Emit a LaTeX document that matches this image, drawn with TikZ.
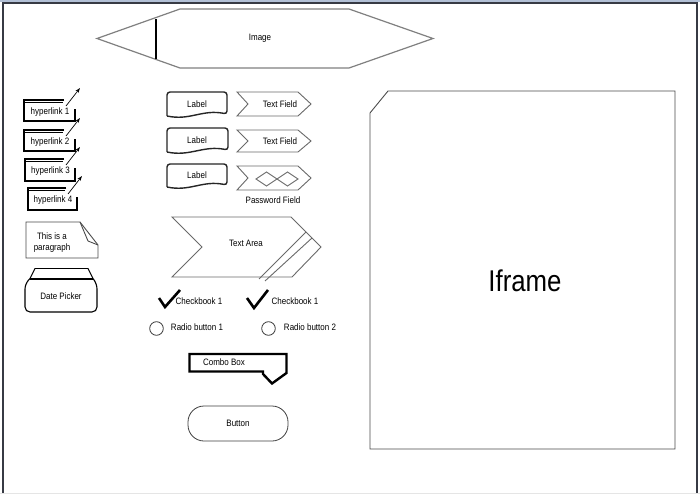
\documentclass[tikz,border=0pt]{standalone}
\usepackage{fontspec}
\setmainfont{Liberation Sans}[FakeStretch=0.86]
\usetikzlibrary{arrows.meta}

\definecolor{framedark}{RGB}{55,58,68}
\definecolor{framelight}{RGB}{178,192,214}
\definecolor{edgegray}{RGB}{105,105,105}

\begin{document}
\begin{tikzpicture}[x=1pt,y=-1pt,
  txt/.style={font=\fontsize{9.3}{10.8}\selectfont, inner sep=0pt, align=center},
  thinline/.style={draw=edgegray, line width=0.9pt},
  thickline/.style={draw=black, line width=2.3pt},
  labelline/.style={draw=black!85, line width=1.4pt, rounded corners=3pt},
  linkarrow/.style={draw=black, line width=0.7pt, -{Stealth[length=5pt,width=3.5pt]}},
  checkline/.style={draw=black, line width=2.6pt}]
\useasboundingbox (0,0) rectangle (700,494);

% window frame
\fill[white] (0,0) rectangle (700,494);
\fill[framelight] (0,0) rectangle (700,2);
\draw[framedark, line width=1.6pt] (3,494) -- (3,2.8) -- (697,2.8) -- (697,494);
\fill[black!10] (0,492.5) rectangle (700,494);

% image placeholder
\draw[draw=gray, line width=1.2pt] (97,38.5) -- (180,9) -- (349,9) -- (433,38.5) -- (349,68) -- (180,68) -- cycle;
\draw[black, line width=2.2pt] (156,19) -- (156,59);
\node[txt] (image) at (260,38.5) {Image};

% hyperlinks
\foreach \l/\r/\t/\b/\n in {24/75/100/121/1, 24/75/130/151/2, 25/75/159/181/3, 28/77/188/210/4}{
  \draw[thickline] (\r-11,\t) -- (\l,\t) -- (\l,\b) -- (\r,\b) -- (\r,\t+9);
  \draw[black, line width=0.6pt] (\l+1,\t+2.6) -- (\r-12,\t+2.6);
  \node[txt] (link\n) at ({(\l+\r)/2+0.5},{(\t+\b)/2+1.5}) {hyperlink \n};
  \coordinate (lk\n s) at (\r-9,\t+6);
  \coordinate (lk\n e) at (\r+5,\t-12);
  \draw[linkarrow] (lk\n s) -- (lk\n e);
}

% paragraph note
\draw[thinline, draw=black!70] (26,222) -- (80,222) -- (98,245) -- (98,258) -- (26,258) -- cycle;
\draw[thinline, draw=black!70] (80,222) -- (88,241) -- (98,245);
\node[txt] (para) at (52,242.5) {This is a\\paragraph};

% date picker
\draw[black, line width=0.9pt] (30,278.5) -- (35,268.5) -- (88,268.5) -- (93,278.5);
\draw[black, line width=2pt] (30,278.5) -- (93,278.5);
\draw[black, line width=1.1pt, rounded corners=5pt] (30,278.5) -- (25,284) -- (25,312) -- (97,312) -- (97,284) -- (93,278.5);
\node[txt] (date) at (61,296.5) {Date Picker};

% labels
\foreach \t/\b/\n/\r in {92/116/1/227, 128/152/2/228, 164/187/3/227}{
  \draw[labelline] (167,\b) -- (167,\t) -- (\r,\t) -- (\r,\b-2)
     .. controls (\r-25,\b-7) and (190,\b+5) .. (167,\b);
  \node[txt] (label\n) at (197,{(\t+\b)/2}) {Label};
}

% text fields
\foreach \t/\b/\n in {92/116/1, 130/152/2}{
  \draw[thinline] (237,\t) -- (298,\t) -- (311,{(\t+\b)/2}) -- (298,\b) -- (237,\b) -- (248,{(\t+\b)/2}) -- cycle;
  \node[txt] (field\n) at (280,{(\t+\b)/2}) {Text Field};
}
\draw[thinline] (237,166) -- (298,166) -- (311,178) -- (298,190) -- (237,190) -- (248,178) -- cycle;
\draw[thinline] (256,179) -- (266.5,172) -- (277,179) -- (266.5,186) -- cycle;
\draw[thinline] (277,179) -- (287.5,172) -- (298,179) -- (287.5,186) -- cycle;
\node[txt] (password) at (273,200.5) {Password Field};

% text area
\draw[thinline] (172,217) -- (291,217) -- (321,247) -- (292,277) -- (172,277) -- (202,247) -- cycle;
\draw[thinline] (306,232) -- (259,279);
\draw[thinline] (312,238) -- (265,281);
\node[txt] (area) at (246,243.5) {Text Area};

% check boxes
\draw[checkline] (159,298) -- (165,307) -- (180,290);
\node[txt] (check1) at (199,301.5) {Checkbook 1};
\draw[checkline] (247,298) -- (254,308) -- (268,290);
\node[txt] (check2) at (295,301.5) {Checkbook 1};

% radio buttons
\draw[black!75, line width=0.8pt] (156.5,328.5) circle (6.8);
\node[txt] (radio1) at (197,327.5) {Radio button 1};
\draw[black!75, line width=0.8pt] (268.5,328.5) circle (6.8);
\node[txt] (radio2) at (310,327.5) {Radio button 2};

% combo box
\draw[thickline, line width=2.4pt, line join=miter] (189.5,354) -- (286.5,354) -- (286.5,373) -- (272,383.5) -- (263,374) -- (263,371.5) -- (189.5,371.5) -- cycle;
\node[txt] (combo) at (224,362.5) {Combo Box};

% button
\draw[black!75, line width=0.8pt, rounded corners=16pt] (188,406) rectangle (288,441);
\node[txt] (button) at (238,423.5) {Button};

% iframe
\draw[draw=black!70, line width=0.9pt] (370,113) -- (388,91) -- (675,91) -- (675,449) -- (370,449) -- cycle;
\node[font=\fontsize{30}{34}\selectfont, inner sep=0pt] (iframe) at (525,281) {Iframe};
\end{tikzpicture}
\end{document}
